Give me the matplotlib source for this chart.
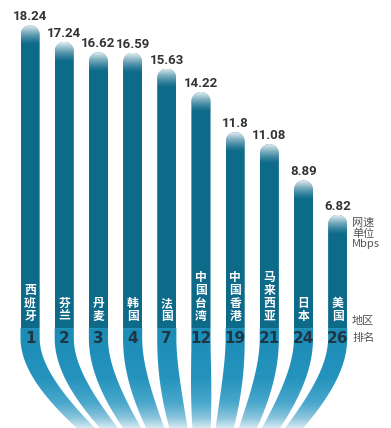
import numpy as np
import matplotlib.pyplot as plt
from matplotlib.path import Path
from matplotlib.patches import PathPatch
from matplotlib.colors import LinearSegmentedColormap

plt.rcParams['font.family'] = ['Noto Sans CJK SC', 'DejaVu Sans']

# 网速排名数据
regions = ['西班牙', '芬兰', '丹麦', '韩国', '法国', '中国台湾', '中国香港', '马来西亚', '日本', '美国']
speeds = [18.24, 17.24, 16.62, 16.59, 15.63, 14.22, 11.8, 11.08, 8.89, 6.82]
ranks = [1, 2, 3, 4, 7, 12, 19, 21, 24, 26]

DARK = '#0e6a89'

fig = plt.figure(figsize=(3.91, 4.28), dpi=100)
ax = fig.add_axes([0, 0, 1, 1])
xmin, xmax, ymin, ymax = -0.88, 10.56, -6.02, 19.76

# pixels per data unit, used to keep the rounded caps circular
kx = 391 / (xmax - xmin)
ky = 428 / (ymax - ymin)

x = np.arange(len(speeds))
bw = 0.56
bars = ax.bar(x, speeds, width=bw, color=DARK, zorder=2)

# white fade over the top of each bar
fade = np.ones((64, 1, 4))
fade[:, 0, 3] = np.linspace(0.92, 0, 64) ** 1.4

for b, v in zip(bars, speeds):
    l = b.get_x()
    w = b.get_width()
    r = l + w
    cx = l + w / 2
    ry = (w / 2) * kx / ky
    th = np.linspace(np.pi, 0, 30)
    cap = np.column_stack([cx + w / 2 * np.cos(th), v - ry + ry * np.sin(th)])
    verts = np.vstack([[l, 0], cap, [r, 0], [l, 0]])
    clip = PathPatch(Path(verts, closed=True), transform=ax.transData)
    b.set_clip_path(clip)
    im = ax.imshow(fade, extent=[l, r, v - 1.2, v], aspect='auto', zorder=3,
                   interpolation='bilinear')
    im.set_clip_path(clip)

# ribbons that bend down to a common point under the chart
y_start = -0.6
y_end = -8.4
drop = y_start - y_end
xc = 4.82
gap_end = 0.42
t = np.linspace(0, 1, 100)[:, None]
paths = []
for i in x:
    x3 = xc + (i - 4.5) * gap_end

    def edge(sign):
        P = np.array([
            [i + sign * bw / 2, y_start],
            [i + sign * bw / 2, y_start - 0.25 * drop],
            [i + 0.3 * (x3 - i) + sign * 0.36, y_start - 0.55 * drop],
            [x3 + sign * 0.17, y_end],
        ])
        return ((1 - t) ** 3 * P[0] + 3 * (1 - t) ** 2 * t * P[1]
                + 3 * (1 - t) * t ** 2 * P[2] + t ** 3 * P[3])

    left = edge(-1)
    right = edge(1)
    verts = np.vstack([[i - bw / 2, 0], left, right[::-1], [i + bw / 2, 0], [i - bw / 2, 0]])
    paths.append(Path(verts, closed=True))

ribbon_clip = PathPatch(Path.make_compound_path(*paths), transform=ax.transData)
grad = LinearSegmentedColormap.from_list(
    'ribbon', [(0, '#1a8cb6'), (0.5, '#2593bd'), (0.75, '#4aa8cc'),
               (0.9, '#8cc5dc'), (1.0, '#d4eaf2')])
gimg = grad(np.linspace(0, 1, 256))[:, None, :]
rim = ax.imshow(gimg, extent=[xmin, xmax, ymin, 0], aspect='auto', zorder=2,
                interpolation='bilinear')
rim.set_clip_path(ribbon_clip)

# texts
for i, v, name, rk in zip(x, speeds, regions, ranks):
    ax.text(i, v + 0.12, str(v), ha='center', va='bottom', fontsize=9.5,
            fontweight='bold', color='#333333', family='Roboto', zorder=6)
    ax.text(i, 0.3, '\n'.join(name), ha='center', va='bottom', color='white',
            fontsize=8.5, fontweight='bold', linespacing=1.0, zorder=6)
    ax.text(i, -0.62, str(rk), ha='center', va='center', fontsize=11,
            fontweight='bold', color='#1f3543', family='DejaVu Sans', zorder=6)

ax.text(9.42, 6.63, '网速\n单位\nMbps', ha='left', va='top', fontsize=8,
        color='#555555', linespacing=1.05)
ax.text(9.42, 0.42, '地区', ha='left', va='center', fontsize=8, color='#555555')
ax.text(9.42, -0.62, '排名', ha='left', va='center', fontsize=8, color='#555555')

ax.set_xlim(xmin, xmax)
ax.set_ylim(ymin, ymax)
ax.axis('off')

fig.savefig('out.png', dpi=100)
